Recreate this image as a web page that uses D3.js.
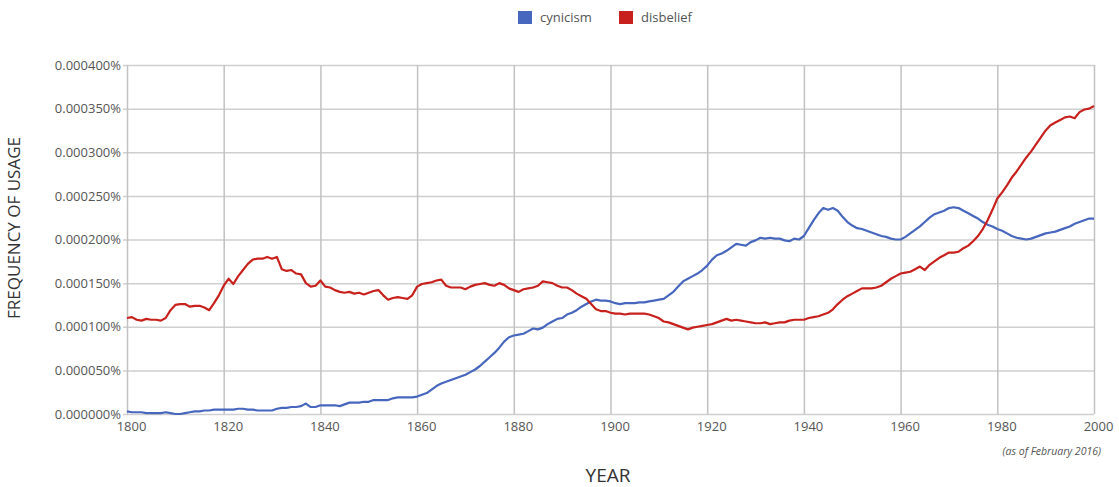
<!DOCTYPE html>
<html>
<head>
<meta charset="utf-8">
<script src="https://cdn.jsdelivr.net/npm/d3@7"></script>
<style>
  html, body { margin: 0; padding: 0; background: #fff; }
  svg { display: block; font-family: "Open Sans", sans-serif; }
</style>
</head>
<body>
<svg id="chart" width="1119" height="487"></svg>
<script>
// ---- data (values in units of 0.000001 %) ----
const years = d3.range(1800, 2001);
const seriesNames = ["cynicism", "disbelief"];
const seriesColors = ["#4766bd", "#c8201c"];
const yTicks = [0, 50, 100, 150, 200, 250, 300, 350, 400];
const xTicks = [1800, 1820, 1840, 1860, 1880, 1900, 1920, 1940, 1960, 1980, 2000];

const cynicism = [
  3,2,2,2,1,1,1,1,2,1,
  0,0,1,2,3,3,4,4,5,5,
  5,5,5,6,6,5,5,4,4,4,
  4,6,7,7,8,8,9,12,8,8,
  10,10,10,10,9,11,13,13,13,14,
  14,16,16,16,16,18,19,19,19,19,
  20,22,24,28,32,35,37,39,41,43,
  45,48,51,55,60,65,70,76,83,88,
  90,91,92,95,98,97,99,103,106,109,
  110,114,116,119,123,126,129,131,130,130,
  129,127,126,127,127,127,128,128,129,130,
  131,132,136,140,146,152,155,158,161,165,
  170,177,182,184,187,191,195,194,193,197,
  199,202,201,202,201,201,199,198,201,200,
  204,213,222,230,236,234,236,233,226,220,
  216,213,212,210,208,206,204,203,201,200,
  200,203,207,211,215,220,225,229,231,233,
  236,237,236,233,230,227,224,220,217,215,
  212,210,207,204,202,201,200,201,203,205,
  207,208,209,211,213,215,218,220,222,224,
  224
];

const disbelief = [
  110,111,108,107,109,108,108,107,110,119,
  125,126,126,123,124,124,122,119,127,136,
  147,155,149,158,165,172,177,178,178,180,
  178,180,166,164,165,161,160,150,146,147,
  153,146,145,142,140,139,140,138,139,137,
  139,141,142,136,131,133,134,133,132,136,
  146,149,150,151,153,154,147,145,145,145,
  143,146,148,149,150,148,147,150,148,144,
  142,140,143,144,145,147,152,151,150,147,
  145,145,142,138,135,132,126,120,118,118,
  116,115,115,114,115,115,115,115,114,112,
  110,106,105,103,101,99,97,99,100,101,
  102,103,105,107,109,107,108,107,106,105,
  104,104,105,103,104,105,105,107,108,108,
  108,110,111,112,114,116,120,126,131,135,
  138,141,144,144,144,145,147,151,155,158,
  161,162,163,166,169,165,171,175,179,182,
  185,185,186,190,193,198,204,212,222,234,
  247,254,262,271,278,286,294,301,309,317,
  325,331,334,337,340,341,339,346,349,350,
  353
];

const seriesValues = [cynicism, disbelief];

// ---- layout ----
const svg = d3.select("#chart");
const plotLeft = 127, plotRight = 1094, plotTop = 65, plotBottom = 414;

const x = d3.scaleLinear().domain([1800, 2000]).range([plotLeft, plotRight]);
const y = d3.scaleLinear().domain([0, 400]).range([plotBottom, plotTop]);

// horizontal gridlines + y labels
const yAxis = d3.axisLeft(y)
  .tickValues(yTicks)
  .tickSize(-(plotRight - plotLeft + 4))
  .tickPadding(2)
  .tickFormat(d => (d * 1e-6).toFixed(6) + "%");
const gy = svg.append("g")
  .attr("transform", `translate(${plotLeft - 4},0)`)
  .call(yAxis);
gy.select(".domain").remove();
gy.selectAll(".tick line").attr("stroke", "#cfcfcf").attr("stroke-width", 1.5);
gy.selectAll(".tick text")
  .attr("fill", "#555").attr("font-size", "13px")
  .attr("font-family", "'Open Sans', sans-serif");

// vertical gridlines + x labels
const xAxis = d3.axisBottom(x)
  .tickValues(xTicks)
  .tickSize(-(plotBottom - plotTop))
  .tickPadding(8)
  .tickFormat(d3.format("d"));
const gx = svg.append("g")
  .attr("transform", `translate(0,${plotBottom})`)
  .call(xAxis);
gx.select(".domain").remove();
gx.selectAll(".tick line").attr("stroke", "#c2c2c2").attr("stroke-width", 1.5);
gx.selectAll(".tick text")
  .attr("fill", "#555").attr("font-size", "13px")
  .attr("dx", "4")
  .attr("font-family", "'Open Sans', sans-serif");

// lines
const line = d3.line()
  .x((d, i) => x(years[i]))
  .y(d => y(d));

seriesValues.forEach((vals, k) => {
  svg.append("path")
    .datum(vals)
    .attr("fill", "none")
    .attr("stroke", seriesColors[k])
    .attr("stroke-width", 2.2)
    .attr("stroke-linejoin", "round")
    .attr("d", line);
});

// legend
const legendX = [518, 619];
seriesNames.forEach((name, k) => {
  svg.append("rect")
    .attr("x", legendX[k]).attr("y", 11)
    .attr("width", 14).attr("height", 13)
    .attr("fill", seriesColors[k]);
  svg.append("text")
    .attr("x", legendX[k] + 22).attr("y", 22)
    .attr("fill", "#555").attr("font-size", "13px")
    .text(name);
});

// axis titles
svg.append("text")
  .attr("transform", "translate(20,228) rotate(-90)")
  .attr("text-anchor", "middle")
  .attr("fill", "#333").attr("font-size", "17px")
  .text("FREQUENCY OF USAGE");

svg.append("text")
  .attr("x", 608).attr("y", 482)
  .attr("text-anchor", "middle")
  .attr("fill", "#333").attr("font-size", "19px")
  .text("YEAR");

svg.append("text")
  .attr("x", 1101).attr("y", 455)
  .attr("text-anchor", "end")
  .attr("fill", "#555").attr("font-size", "10.5px")
  .attr("font-style", "italic")
  .text("(as of February 2016)");
</script>
</body>
</html>
